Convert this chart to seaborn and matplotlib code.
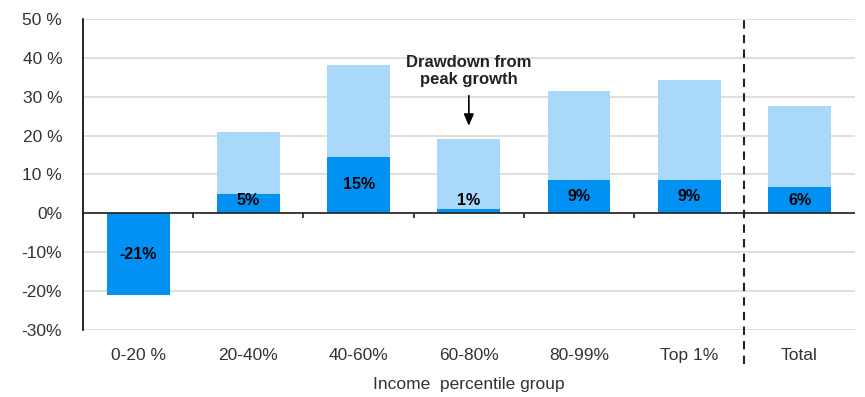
import numpy as np
import pandas as pd
import matplotlib
matplotlib.use("Agg")
import matplotlib.pyplot as plt
import seaborn as sns

# data
groups = ["0-20 %", "20-40%", "40-60%", "60-80%", "80-99%", "Top 1%", "Total"]
peak_growth = [0, 21, 38.2, 19.2, 31.5, 34.4, 27.7]
current_growth = [-21, 5, 14.6, 1, 8.7, 8.7, 6.7]
bar_labels = ["-21%", "5%", "15%", "1%", "9%", "9%", "6%"]
ytick_vals = [-30, -20, -10, 0, 10, 20, 30, 40, 50]
ytick_labels = ["-30%", "-20%", "-10%", "0%", "10 %", "20 %", "30 %", "40 %", "50 %"]

df = pd.DataFrame({"group": groups, "peak": peak_growth, "current": current_growth})

sns.set_style("white")
plt.rcParams["font.family"] = ["Liberation Sans", "DejaVu Sans"]

light = "#a9d8fb"
dark = "#0091f2"
txt = "#333333"

fig = plt.figure(figsize=(8.65, 3.97), dpi=100)
ax = fig.add_axes([0.096, 0.169, 0.892, 0.783])

sns.barplot(data=df, x="group", y="peak", color=light, width=0.57, saturation=1,
            linewidth=0, ax=ax, zorder=2)
sns.barplot(data=df, x="group", y="current", color=dark, width=0.57, saturation=1,
            linewidth=0, ax=ax, zorder=3)

ax.set_ylim(-30, 50)
ax.set_xlim(-0.5, len(groups) - 0.5)
ax.set_yticks(ytick_vals)
ax.set_yticklabels(ytick_labels)
ax.yaxis.grid(True, color="#d9d9d9", linewidth=1.2, zorder=0)
ax.set_axisbelow(True)

for s in ["top", "right", "bottom"]:
    ax.spines[s].set_visible(False)
ax.spines["left"].set_color("black")
ax.spines["left"].set_linewidth(1.2)

ax.axhline(0, color="#222222", linewidth=1.2, zorder=4)
# small tick marks between categories on the zero line
ax.vlines(np.arange(0.5, 5), -1.1, 0, color="#222222", linewidth=1.2, zorder=4)

ax.tick_params(axis="both", length=0, labelsize=12.5, labelcolor=txt)
ax.tick_params(axis="y", pad=15)
ax.tick_params(axis="x", pad=13)
ax.set_xlabel("Income  percentile group", fontsize=12.5, color=txt, labelpad=10)
ax.set_ylabel("")

# value labels in the dark bars
for i, (v, lab) in enumerate(zip(current_growth, bar_labels)):
    ypos = v / 2 if v < 0 else max(v / 2, 3.3)
    ax.text(i, ypos, lab, ha="center", va="center", fontsize=11.5, fontweight="bold",
            color="black", zorder=5)

# dashed separator before Total
ax.plot([5.5, 5.5], [-0.11, 1.015], transform=ax.get_xaxis_transform(), color="#222222",
        linestyle=(0, (4, 3)), linewidth=1.5, clip_on=False, zorder=5)

# annotation
ax.annotate("", xy=(3, 21.8), xytext=(3, 31),
            arrowprops=dict(arrowstyle="-|>,head_width=0.3,head_length=0.7", color="black", lw=1.2))
ax.text(3, 36.6, "Drawdown from\npeak growth", ha="center", va="center", fontsize=12,
        fontweight="bold", color="#222222", linespacing=1.2)

fig.savefig("out.png", dpi=100)
